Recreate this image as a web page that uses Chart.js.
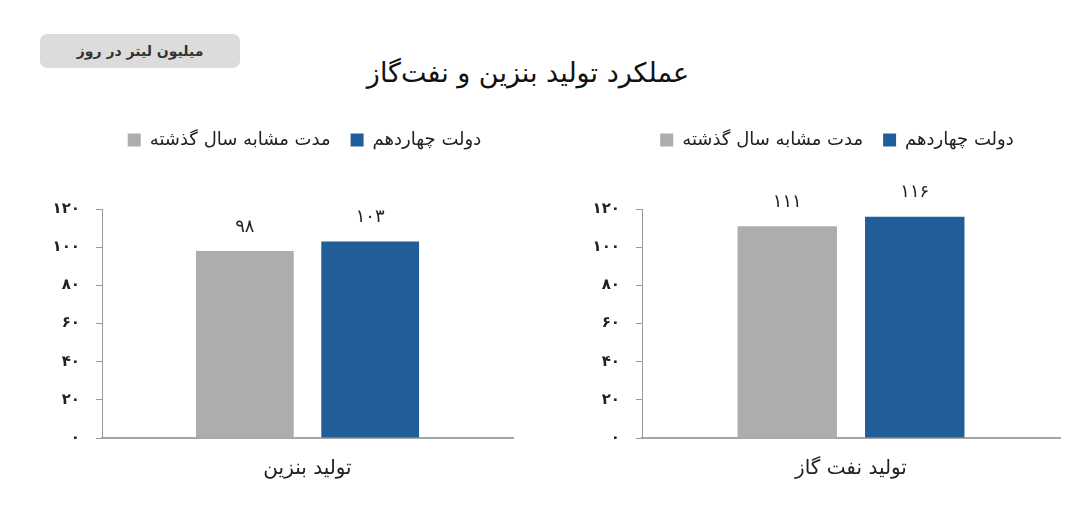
<!DOCTYPE html>
<html>
<head>
<meta charset="utf-8">
<script src="https://cdn.jsdelivr.net/npm/chart.js@4/dist/chart.umd.min.js"></script>
<style>
  body { margin: 0; background: #fff; font-family: "DejaVu Sans", sans-serif; }
  #page { position: relative; width: 1080px; height: 529px; overflow: hidden; }
  .unit { position: absolute; left: 40px; top: 34px; width: 200px; height: 34px; border-radius: 7px;
          background: #dcdcdc; color: #333; font-weight: bold; font-size: 14px; line-height: 34px;
          text-align: center; direction: rtl; }
  .title { position: absolute; left: 0; top: 57px; width: 1056px; text-align: center; direction: rtl;
           font-size: 27px; color: #111; }
  .box { position: absolute; top: 110px; width: 540px; height: 390px; }
</style>
</head>
<body>
<div id="page">
  <div class="unit">میلیون لیتر در روز</div>
  <div class="title">عملکرد تولید بنزین و نفت‌گاز</div>
  <div class="box" style="left:0"><canvas id="gasoline"></canvas></div>
  <div class="box" style="left:540px"><canvas id="diesel"></canvas></div>
</div>
<script>
const seriesNames = ['مدت مشابه سال گذشته', 'دولت چهاردهم'];
const gasolineLabels = ['تولید بنزین'];
const dieselLabels = ['تولید نفت گاز'];
const gasolinePrev = [98];
const gasolineNow = [103];
const dieselPrev = [111];
const dieselNow = [116];
const yMax = 120;
const yStep = 20;

const gray = '#adadad';
const blue = '#215e99';
const font = '"DejaVu Sans", sans-serif';

// persian digits for ticks and labels
const toFa = (n) => String(n).replace(/\d/g, (d) => '۰۱۲۳۴۵۶۷۸۹'[d]);

const valueLabels = {
    id: 'valueLabels',
    afterDatasetsDraw(chart) {
        const ctx = chart.ctx;
        ctx.save();
        ctx.font = '18px ' + font;
        ctx.fillStyle = '#222';
        ctx.textAlign = 'center';
        ctx.textBaseline = 'middle';
        chart.data.datasets.forEach((ds, i) => {
            chart.getDatasetMeta(i).data.forEach((bar, j) => {
                ctx.fillText(toFa(ds.data[j]), bar.x, bar.y - 24);
            });
        });
        ctx.restore();
    }
};

// extra room under the legend, and nudge it sideways
const legendTweak = (gap, dx) => ({
    id: 'legendTweak',
    beforeInit(chart) {
        const legend = chart.legend;
        const fit = legend.fit;
        const draw = legend.draw;
        legend.fit = function () {
            fit.call(this);
            this.height += gap;
        };
        legend.draw = function () {
            const ctx = this.ctx;
            ctx.save();
            ctx.translate(dx, 0);
            draw.call(this);
            ctx.restore();
        };
    }
});

const makeChart = (id, labels, prev, now, pad, dx) =>
    new Chart(document.getElementById(id), {
        type: 'bar',
        data: {
            labels,
            datasets: [
                { label: seriesNames[0], data: prev, backgroundColor: gray },
                { label: seriesNames[1], data: now, backgroundColor: blue },
            ],
        },
        options: {
            responsive: true,
            maintainAspectRatio: false,
            animation: false,
            categoryPercentage: 0.61,
            barPercentage: 0.78,
            layout: { padding: pad },
            plugins: {
                legend: {
                    labels: {
                        boxWidth: 13,
                        boxHeight: 13,
                        padding: 20,
                        color: '#222',
                        font: { family: font, size: 18 },
                    },
                },
                tooltip: { enabled: false },
            },
            scales: {
                x: {
                    grid: { display: false, drawTicks: false },
                    border: { color: '#a6a6a6', width: 2 },
                    ticks: { padding: 19, color: '#222', font: { family: font, size: 20 } },
                },
                y: {
                    min: 0,
                    max: yMax,
                    afterFit: (scale) => { scale.width = 52; },
                    grid: { drawOnChartArea: false, tickLength: 6, color: '#999' },
                    border: { color: '#999' },
                    ticks: {
                        stepSize: yStep,
                        padding: 16,
                        color: '#222',
                        font: { family: font, size: 15, weight: 'bold' },
                        callback: (v) => toFa(v),
                    },
                },
            },
        },
        plugins: [valueLabels, legendTweak(50, dx)],
    });

makeChart('gasoline', gasolineLabels, gasolinePrev, gasolineNow, { left: 50, right: 27, top: 1, bottom: 0 }, 23);
makeChart('diesel', dieselLabels, dieselPrev, dieselNow, { left: 50, right: 20, top: 1, bottom: 0 }, 12);
</script>
</body>
</html>
